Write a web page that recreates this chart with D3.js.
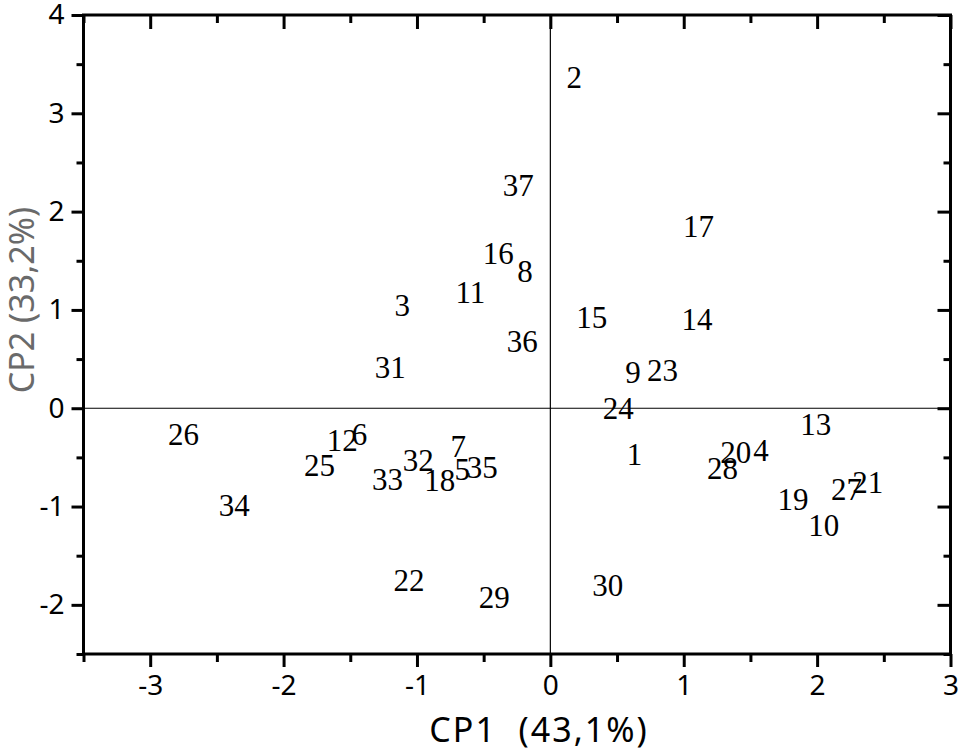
<!DOCTYPE html>
<html>
<head>
<meta charset="utf-8">
<script src="https://cdn.jsdelivr.net/npm/d3@7"></script>
<style>
  body { margin: 0; background: #fff; }
  svg { display: block; }
</style>
</head>
<body>
<svg id="chart" width="960" height="750"></svg>
<script>
// Sample identifiers and their PCA scores (CP1, CP2)
const labels = ["1","2","3","4","5","6","7","8","9","10","11","12","13","14","15","16","17","18","19","20","21","22","23","24","25","26","27","28","29","30","31","32","33","34","35","36","37"];
const cp1 = [0.63, 0.18, -1.11, 1.58, -0.66, -1.43, -0.69, -0.19, 0.62, 2.05, -0.60, -1.56, 1.99, 1.10, 0.31, -0.39, 1.11, -0.83, 1.82, 1.39, 2.38, -1.06, 0.84, 0.51, -1.73, -2.75, 2.22, 1.29, -0.42, 0.43, -1.20, -0.99, -1.22, -2.37, -0.51, -0.21, -0.24];
const cp2 = [-0.47, 3.36, 1.05, -0.43, -0.62, -0.27, -0.39, 1.39, 0.36, -1.19, 1.18, -0.33, -0.17, 0.90, 0.92, 1.57, 1.85, -0.73, -0.93, -0.45, -0.75, -1.75, 0.38, 0.00, -0.58, -0.27, -0.83, -0.61, -1.92, -1.80, 0.41, -0.53, -0.72, -0.99, -0.60, 0.68, 2.27];
const xMajor = [-3, -2, -1, 0, 1, 2, 3];
const xMinor = [-3.5, -2.5, -1.5, -0.5, 0.5, 1.5, 2.5];
const yMajor = [-2, -1, 0, 1, 2, 3, 4];
const yMinor = [-2.5, -1.5, -0.5, 0.5, 1.5, 2.5, 3.5];
const xTitle = "CP1  (43,1%)";
const yTitle = "CP2 (33,2%)";

const svg = d3.select("#chart");
const L = 83.5, R = 950.5, T = 15, B = 654;
const x = d3.scaleLinear().domain([-3.5, 3]).range([L, R]);
const y = d3.scaleLinear().domain([-2.5, 4]).range([B, T]);

const tickFont = "'Noto Sans', 'DejaVu Sans', sans-serif";
const fmt = d => String(d);

// zero lines
svg.append("line").attr("x1", x(0)).attr("x2", x(0)).attr("y1", T).attr("y2", B)
  .attr("stroke", "#000").attr("stroke-width", 1.2);
svg.append("line").attr("x1", L).attr("x2", R).attr("y1", y(0)).attr("y2", y(0))
  .attr("stroke", "#000").attr("stroke-width", 1.2);

function styleAxis(g) {
  g.select(".domain").remove();
  g.selectAll(".tick line").attr("stroke", "#000").attr("stroke-width", 3);
  g.selectAll(".tick text").attr("fill", "#000").style("font-family", tickFont).style("font-size", "28px");
}

// bottom axis (outward)
svg.append("g").attr("transform", `translate(0,${B})`)
  .call(d3.axisBottom(x).tickValues(xMajor).tickSize(13).tickPadding(8).tickFormat(fmt))
  .call(styleAxis);
svg.append("g").attr("transform", `translate(0,${B})`)
  .call(d3.axisBottom(x).tickValues(xMinor).tickSize(8).tickFormat(""))
  .call(styleAxis);
// left axis (outward)
svg.append("g").attr("transform", `translate(${L},0)`)
  .call(d3.axisLeft(y).tickValues(yMajor).tickSize(12).tickPadding(7).tickFormat(fmt))
  .call(styleAxis);
svg.append("g").attr("transform", `translate(${L},0)`)
  .call(d3.axisLeft(y).tickValues(yMinor).tickSize(7).tickFormat(""))
  .call(styleAxis);
// top axis (inward)
svg.append("g").attr("transform", `translate(0,${T})`)
  .call(d3.axisTop(x).tickValues(xMajor).tickSize(-14).tickFormat(""))
  .call(styleAxis);
svg.append("g").attr("transform", `translate(0,${T})`)
  .call(d3.axisTop(x).tickValues(xMinor).tickSize(-8).tickFormat(""))
  .call(styleAxis);
// right axis (inward)
svg.append("g").attr("transform", `translate(${R},0)`)
  .call(d3.axisRight(y).tickValues(yMajor).tickSize(-13).tickFormat(""))
  .call(styleAxis);
svg.append("g").attr("transform", `translate(${R},0)`)
  .call(d3.axisRight(y).tickValues(yMinor).tickSize(-7).tickFormat(""))
  .call(styleAxis);

// frame
svg.append("rect").attr("x", L).attr("y", T).attr("width", R - L).attr("height", B - T)
  .attr("fill", "none").attr("stroke", "#000").attr("stroke-width", 3);

// point labels
const pts = labels.map((l, i) => ({ l, a: cp1[i], b: cp2[i] }));
svg.append("g").selectAll("text").data(pts).join("text")
  .attr("x", d => x(d.a)).attr("y", d => y(d.b)).attr("dy", "0.34em")
  .attr("text-anchor", "middle")
  .style("font-family", "'Liberation Serif', 'Times New Roman', serif")
  .style("font-size", "31px").attr("fill", "#000")
  .text(d => d.l);

// axis titles
svg.append("text").attr("x", 539).attr("y", 742).attr("text-anchor", "middle")
  .style("font-family", tickFont).style("font-size", "34px").style("letter-spacing", "2px")
  .style("white-space", "pre").attr("fill", "#000").text(xTitle);
svg.append("text").attr("transform", "translate(34,300) rotate(-90)").attr("text-anchor", "middle")
  .style("font-family", tickFont).style("font-size", "34px").attr("fill", "#6a6a6a").text(yTitle);
</script>
</body>
</html>
